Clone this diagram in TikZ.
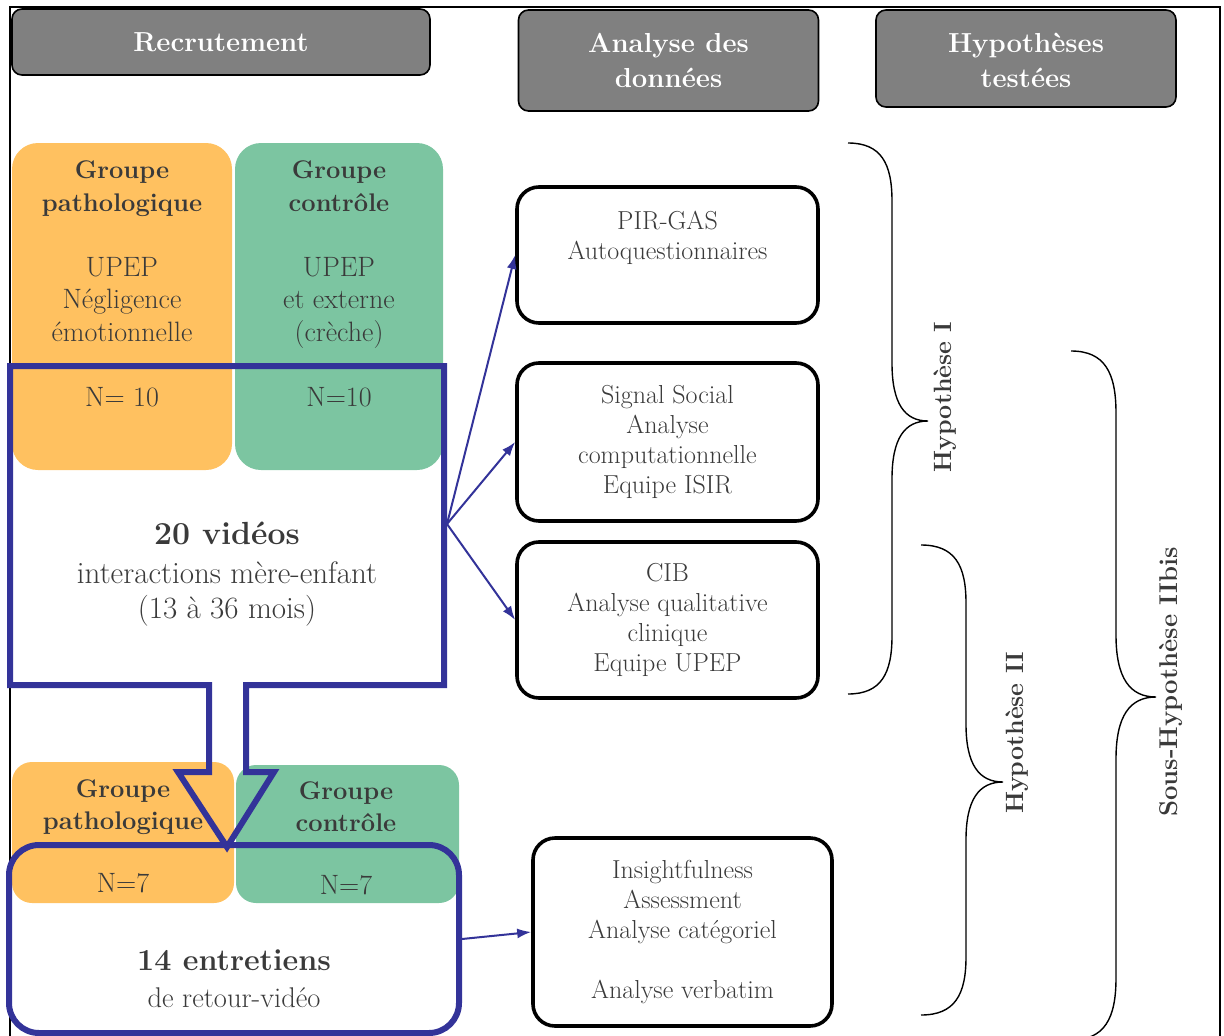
\documentclass[tikz,border=0pt]{standalone}
\usetikzlibrary{arrows.meta}
\definecolor{hdr}{RGB}{128,128,128}
\definecolor{orng}{RGB}{255,193,96}
\definecolor{grn}{RGB}{124,197,161}
\definecolor{blu}{RGB}{51,51,153}
\definecolor{txt}{RGB}{58,58,58}
\newcommand\drawbrace[7]{% x0, xv, xt, y1, ym, y2, c
  \draw[bracestyle] (#1,#4) .. controls ({#1+0.75*(#2-#1)},#4) and (#2,{#4+0.35*#7}) .. (#2,{#4+#7})
  -- (#2,{#5-#7}) .. controls (#2,{#5-0.3*#7}) and ({#2+0.35*(#3-#2)},#5) .. (#3,#5)
  .. controls ({#2+0.35*(#3-#2)},#5) and (#2,{#5+0.3*#7}) .. (#2,{#5+#7})
  -- (#2,{#6-#7}) .. controls (#2,{#6-0.35*#7}) and ({#1+0.75*(#2-#1)},#6) .. (#1,#6);}
\begin{document}
\begin{tikzpicture}[x=1pt,y=-1pt,
  frame/.style={draw=black,line width=2pt},
  hdrbox/.style={draw=black,line width=1.6pt,fill=hdr,rounded corners=10pt,inner sep=0pt},
  hdrtxt/.style={text=white,font=\fontsize{27.5}{35}\selectfont\bfseries,align=center},
  grpbox/.style={fill=#1,draw=none,inner sep=0pt},
  grptxt/.style={text=txt,font=\fontsize{28}{32.5}\selectfont,align=center},
  anbox/.style={draw=black,line width=3.6pt,rounded corners=22pt,inner sep=0pt,
    text=txt,font=\fontsize{26}{30}\selectfont,align=center},
  bluline/.style={draw=blu,line width=6pt},
  bluarrow/.style={draw=blu,line width=2pt,-{Latex[length=14pt,width=10pt]}},
  bracestyle/.style={draw=black,line width=1.4pt},
  hyptxt/.style={text=txt,font=\fontsize{25}{30}\selectfont\bfseries,rotate=90}
]
\useasboundingbox (0,0) rectangle (1224,1036);
% outer frame
\draw[frame] (10,7) rectangle (1220,1060);

% headers
\node[hdrbox,minimum width=418pt,minimum height=66pt] (hrec) at (221,42) {};
\node[hdrtxt] (hrecT) at (221,42) {Recrutement};
\node[hdrbox,minimum width=300pt,minimum height=101pt] (hana) at (668.5,60.5) {};
\node[hdrtxt] (hanaT) at (668.5,60) {Analyse des\\données};
\node[hdrbox,minimum width=300pt,minimum height=97pt] (hhyp) at (1026,58.5) {};
\node[hdrtxt] (hhypT) at (1026,60) {Hypothèses\\testées};

% upper groups
\node[grpbox=orng,rounded corners=26pt,minimum width=220pt,minimum height=327pt] (gp1) at (122,306.5) {};
\node[grpbox=grn,rounded corners=26pt,minimum width=208pt,minimum height=327pt] (gc1) at (339,306.5) {};
\node[grptxt] (gp1T) at (122,284) {{\bfseries\fontsize{25.5}{32.5}\selectfont Groupe}\\{\bfseries\fontsize{25.5}{32.5}\selectfont pathologique}\\[32.5pt]UPEP\\Négligence\\émotionnelle\\[32.5pt]N= 10};
\node[grptxt] (gc1T) at (339,284) {{\bfseries\fontsize{25.5}{32.5}\selectfont Groupe}\\{\bfseries\fontsize{25.5}{32.5}\selectfont contrôle}\\[32.5pt]UPEP\\et externe\\(crèche)\\[32.5pt]N=10};

% lower groups
\node[grpbox=orng,rounded corners=20pt,minimum width=222pt,minimum height=141pt] (gp2) at (123,832.5) {};
\node[grpbox=grn,rounded corners=20pt,minimum width=223pt,minimum height=138pt] (gc2) at (347.5,834) {};
\node[grptxt] (gp2T) at (123,836) {{\bfseries\fontsize{25.5}{32.5}\selectfont Groupe}\\{\bfseries\fontsize{25.5}{32.5}\selectfont pathologique}\\[30pt]N=7};
\node[grptxt] (gc2T) at (346,838) {{\bfseries\fontsize{25.5}{32.5}\selectfont Groupe}\\{\bfseries\fontsize{25.5}{32.5}\selectfont contrôle}\\[30pt]N=7};

% videos callout
\draw[bluline,line join=miter] (10,366) -- (444,366) -- (444,685) -- (246,685) -- (246,772)
  -- (274,772) -- (227,847) -- (178,772) -- (209,772) -- (209,685) -- (10,685) -- cycle;
\coordinate (vidR) at (447,524);
\node[text=txt,align=center,font=\fontsize{31}{35}\selectfont] (vidT) at (227,574)
  {{\fontsize{32}{35}\selectfont\bfseries 20 vidéos}\\[4pt]interactions mère-enfant\\(13 à 36 mois)};

% entretiens
\node[bluline,rounded corners=30pt,minimum width=450pt,minimum height=188pt,inner sep=0pt] (ent) at (234,939) {};
\node[text=txt,align=center,font=\fontsize{28.5}{37}\selectfont] (entT) at (234,979)
  {{\fontsize{30.5}{37}\selectfont\bfseries 14 entretiens}\\de retour-vidéo};

% analysis boxes
\node[anbox,minimum width=301pt,minimum height=136pt] (pir) at (667.5,255) {PIR-GAS\\Autoquestionnaires\\ \strut};
\node[anbox,minimum width=301pt,minimum height=158pt] (sig) at (667.5,442) {Signal Social\\Analyse\\computationnelle\\Equipe ISIR};
\node[anbox,minimum width=301pt,minimum height=156pt] (cib) at (667.5,620) {CIB\\Analyse qualitative\\clinique\\Equipe UPEP};
\node[anbox,minimum width=299pt,minimum height=188pt] (ins) at (682.5,932) {Insightfulness\\Assessment\\Analyse catégoriel\\ \strut\\Analyse verbatim};

% arrows
\draw[bluarrow] (vidR) -- (pir.west);
\draw[bluarrow] (vidR) -- (sig.west);
\draw[bluarrow] (vidR) -- (cib.west);
\draw[bluarrow] (ent.east) -- (ins.west);

% braces
\drawbrace{848}{892}{928}{143}{421}{694}{58}
\drawbrace{921}{966}{1003}{545}{782}{1015}{58}
\drawbrace{1071}{1116}{1156}{351}{697}{1040}{62}
\node[hyptxt] (h1) at (945,397) {Hypothèse I};
\node[hyptxt] (h2) at (1017,733) {Hypothèse II};
\node[hyptxt,font=\fontsize{25.7}{30}\selectfont\bfseries] (h3) at (1171,682) {Sous-Hypothèse IIbis};
\end{tikzpicture}
\end{document}
